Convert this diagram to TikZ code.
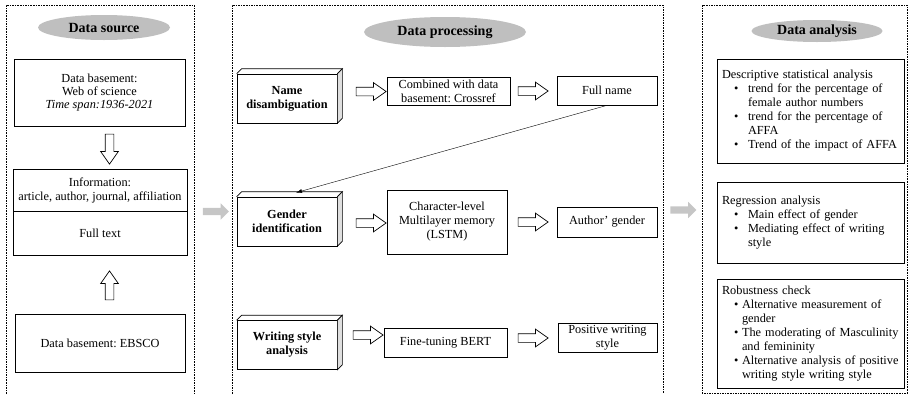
\documentclass[tikz,border=0pt]{standalone}
\usepackage{fontspec}
\setmainfont{Liberation Serif}
\usetikzlibrary{shapes.geometric, shapes.arrows, arrows.meta, calc}
\frenchspacing

% bullet with a fixed indent for the list boxes
\newcommand{\bul}[1]{\makebox[#1][l]{\hspace{12pt}\textbullet}}

\begin{document}
\begin{tikzpicture}[
    x=1pt, y=-1pt,
    every node/.style={font=\fontsize{12.3}{14}\selectfont},
    panel/.style={line width=0.6pt, dash pattern=on 1.6pt off 1pt},
    title/.style={ellipse, fill=gray!50, inner sep=0pt, font=\fontsize{14}{16}\selectfont\bfseries},
    box/.style={rectangle, draw, line width=0.7pt, align=center, inner xsep=2pt, inner ysep=1pt},
    solid3d/.style={box, minimum width=100pt, minimum height=49pt, font=\fontsize{12.3}{14}\selectfont\bfseries},
    list/.style={rectangle, draw, line width=0.7pt, text width=177pt, align=left, inner xsep=5pt},
    hollow/.style={single arrow, draw, line width=0.7pt, minimum height=30pt, inner sep=4pt,
                   single arrow head extend=4.5pt, single arrow tip angle=70},
    grayarrow/.style={single arrow, fill=gray!45, minimum height=26pt, inner sep=3.5pt,
                   single arrow head extend=4.5pt}
]
    \useasboundingbox (0,0) rectangle (910,394);

    % Panels
    \draw[panel] (6,394) -- (6,5) -- (194,5) -- (194,394);
    \draw[panel] (232,394) -- (232,5) -- (663,5) -- (663,394);
    \draw[panel] (702,5) rectangle (907,393);

    % Data source
    \node[title, minimum width=132pt, minimum height=25pt] (srctitle) at (104,27.5) {Data source};
    \node[box, minimum width=171pt, minimum height=67pt, font=\fontsize{12.3}{13}\selectfont] (wos) at (99.5,92.5)
        {Data basement:\\Web of science\\\textit{Time span:1936-2021}};
    \node[hollow, rotate=-90] (downarr) at (109.5,146) {};
    \node[box, minimum width=174pt, minimum height=42pt] (info) at (100,190)
        {Information:\\article, author, journal, affiliation};
    \node[box, minimum width=174pt, minimum height=44pt, anchor=north] (fulltext) at (info.south) {Full text};
    \node[hollow, rotate=90, minimum height=29pt] (uparr) at (109.5,288.5) {};
    \node[box, minimum width=170pt, minimum height=58pt] (ebsco) at (100,343) {Data basement: EBSCO};

    % Data processing
    \node[title, minimum width=162pt, minimum height=30pt] (proctitle) at (445,32) {Data processing};

    \node[solid3d] (namedis) at (287,98.5) {Name\\disambiguation};
    \node[hollow] (arr1) at (368,91.5) {};
    \node[box, minimum width=123pt, minimum height=28pt] (crossref) at (448.5,91)
        {Combined with data\\basement: Crossref};
    \node[hollow] (arr2) at (530,91) {};
    \node[box, minimum width=100pt, minimum height=29pt] (fullname) at (607,90.5) {Full name};

    \node[solid3d] (genderid) at (287,221.5) {Gender\\identification};
    \node[hollow] (arr3) at (368,223) {};
    \node[box, minimum width=120pt, minimum height=64pt] (lstm) at (447,222)
        {Character-level\\Multilayer memory\\(LSTM)};
    \node[hollow] (arr4) at (530,222) {};
    \node[box, minimum width=100pt, minimum height=30pt] (authgender) at (607,222) {Author' gender};

    \node[solid3d] (writsty) at (287,345) {Writing style\\analysis};
    \node[hollow] (arr5) at (365,335) {};
    \node[box, minimum width=123pt, minimum height=29pt] (bert) at (445.5,342.5) {Fine-tuning BERT};
    \node[hollow] (arr6) at (530,338) {};
    \node[box, minimum width=99pt, minimum height=29pt] (poswrit) at (607.5,337.5) {Positive writing\\style};

    % 3d faces of the step boxes
    \foreach \n in {namedis,genderid,writsty} {
        \draw[line width=0.7pt] (\n.north west) -- ++(5,-5) -- ($(\n.north east)+(5,-5)$) -- (\n.north east);
        \draw[line width=0.7pt, fill=gray!25] (\n.north east) -- ++(5,-5) -- ($(\n.south east)+(5,-5)$) -- (\n.south east) -- cycle;
    }

    % Full name back to gender identification
    \draw[-{Latex[length=6pt,width=4pt]}, line width=0.4pt] (fullname.south) -- ([xshift=9pt,yshift=4pt]genderid.north);

    % Data analysis
    \node[title, minimum width=131pt, minimum height=22pt] (antitle) at (817,31) {Data analysis};
    \node[list, minimum height=104pt] (descr) at (810.5,111) {Descriptive statistical analysis\\
        \bul{26pt}trend for the percentage of\\
        \hspace*{26pt}female author numbers\\
        \bul{26pt}trend for the percentage of\\
        \hspace*{26pt}AFFA\\
        \bul{26pt}Trend of the impact of AFFA};
    \node[list, minimum height=81pt] (regr) at (810.5,222.5) {Regression analysis\\
        \bul{26pt}Main effect of gender\\
        \bul{26pt}Mediating effect of writing\\
        \hspace*{26pt}style};
    \node[list, minimum height=109pt] (robust) at (810.5,333.5) {Robustness check\\
        \bul{20pt}Alternative measurement of\\
        \hspace*{20pt}gender\\
        \bul{20pt}The moderating of Masculinity\\
        \hspace*{20pt}and femininity\\
        \bul{20pt}Alternative analysis of positive\\
        \hspace*{20pt}writing style writing style};

    % Arrows between the panels
    \node[grayarrow] (gap1) at (214,211.5) {};
    \node[grayarrow] (gap2) at (681.5,210) {};

\end{tikzpicture}
\end{document}
